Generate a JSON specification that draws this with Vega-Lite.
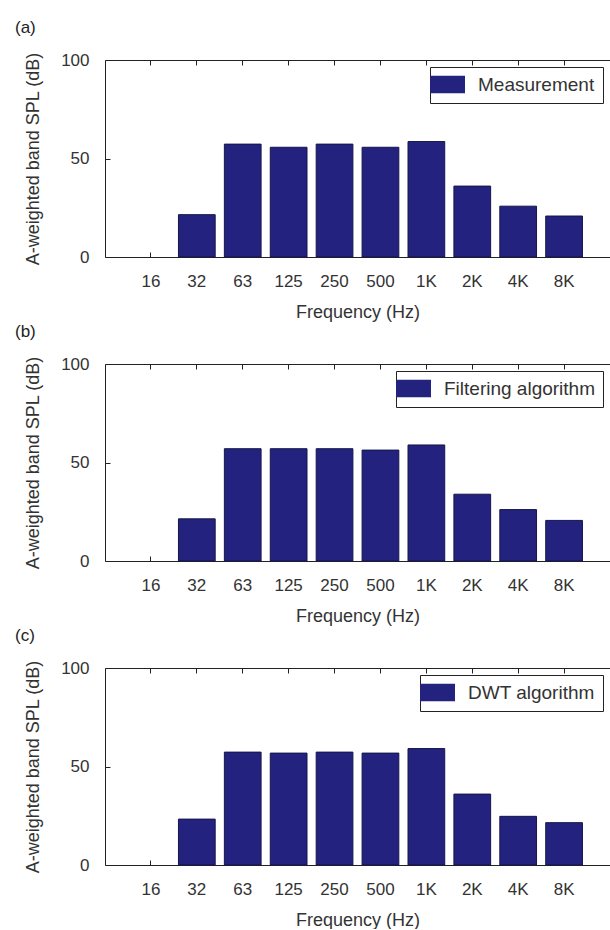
{
  "$schema": "https://vega.github.io/schema/vega-lite/v6.json",
  "padding": {"left": 15, "top": 19, "right": 0, "bottom": 0},
  "background": "white",
  "spacing": 107,
  "bounds": "flush",
  "resolve": {"scale": {"color": "independent"}, "legend": {"color": "independent"}},
  "config": {
    "font": "Liberation Sans",
    "view": {"stroke": null},
    "axis": {
      "labelFont": "Liberation Sans", "titleFont": "Liberation Sans",
      "labelFontSize": 17, "titleFontSize": 18, "titleFontWeight": "normal",
      "labelColor": "#333333", "titleColor": "#333333",
      "domainColor": "#222222", "tickColor": "#222222", "grid": false
    },
    "title": {"font": "Liberation Sans", "fontSize": 17, "fontWeight": "normal", "anchor": "start", "color": "#222222"},
    "legend": {
      "title": null, "orient": "top-right", "offset": 7,
      "strokeColor": "#222222", "fillColor": "white", "padding": 8,
      "symbolType": "M-2,-1H2V1H-2Z", "symbolSize": 306,
      "symbolStrokeWidth": 0, "symbolOpacity": 1,
      "labelFont": "Liberation Sans", "labelFontSize": 19, "labelColor": "#333333", "labelOffset": 21
    }
  },
  "datasets": {
    "a": [
      {"freq": "16", "spl": null, "series": "Measurement"},
      {"freq": "32", "spl": 21.5, "series": "Measurement"},
      {"freq": "63", "spl": 57.3, "series": "Measurement"},
      {"freq": "125", "spl": 55.7, "series": "Measurement"},
      {"freq": "250", "spl": 57.3, "series": "Measurement"},
      {"freq": "500", "spl": 55.7, "series": "Measurement"},
      {"freq": "1K", "spl": 58.6, "series": "Measurement"},
      {"freq": "2K", "spl": 36.0, "series": "Measurement"},
      {"freq": "4K", "spl": 25.8, "series": "Measurement"},
      {"freq": "8K", "spl": 20.8, "series": "Measurement"}
    ],
    "b": [
      {"freq": "16", "spl": null, "series": "Filtering algorithm"},
      {"freq": "32", "spl": 21.4, "series": "Filtering algorithm"},
      {"freq": "63", "spl": 57.0, "series": "Filtering algorithm"},
      {"freq": "125", "spl": 57.0, "series": "Filtering algorithm"},
      {"freq": "250", "spl": 57.0, "series": "Filtering algorithm"},
      {"freq": "500", "spl": 56.3, "series": "Filtering algorithm"},
      {"freq": "1K", "spl": 58.9, "series": "Filtering algorithm"},
      {"freq": "2K", "spl": 33.9, "series": "Filtering algorithm"},
      {"freq": "4K", "spl": 26.1, "series": "Filtering algorithm"},
      {"freq": "8K", "spl": 20.6, "series": "Filtering algorithm"}
    ],
    "c": [
      {"freq": "16", "spl": null, "series": "DWT algorithm"},
      {"freq": "32", "spl": 23.3, "series": "DWT algorithm"},
      {"freq": "63", "spl": 57.3, "series": "DWT algorithm"},
      {"freq": "125", "spl": 56.8, "series": "DWT algorithm"},
      {"freq": "250", "spl": 57.3, "series": "DWT algorithm"},
      {"freq": "500", "spl": 56.8, "series": "DWT algorithm"},
      {"freq": "1K", "spl": 59.1, "series": "DWT algorithm"},
      {"freq": "2K", "spl": 36.0, "series": "DWT algorithm"},
      {"freq": "4K", "spl": 24.7, "series": "DWT algorithm"},
      {"freq": "8K", "spl": 21.5, "series": "DWT algorithm"}
    ]
  },
  "vconcat": [
    {
      "width": 505, "height": 197,
      "title": {"text": "(a)", "frame": "group", "dx": -90, "offset": 14},
      "data": {"name": "a"},
      "resolve": {"axis": {"x": "independent"}},
      "layer": [
        {
          "mark": {"type": "bar", "stroke": "#15154a", "strokeWidth": 1},
          "encoding": {
            "x": {"field": "freq", "type": "ordinal", "sort": null,
              "scale": {"domain": ["16","32","63","125","250","500","1K","2K","4K","8K"], "paddingInner": 0.2, "paddingOuter": 0.6},
              "axis": {"title": "Frequency (Hz)", "labelAngle": 0, "tickSize": -5, "labelPadding": 21, "titlePadding": 14}},
            "y": {"field": "spl", "type": "quantitative", "scale": {"domain": [0, 100]},
              "axis": {"title": "A-weighted band SPL (dB)", "values": [0, 50, 100], "tickSize": -5, "labelPadding": 21, "titlePadding": 18}},
            "color": {"field": "series", "type": "nominal", "scale": {"range": ["#23237f"]}}
          }
        },
        {
          "mark": {"type": "bar", "opacity": 0},
          "encoding": {
            "x": {"field": "freq", "type": "ordinal", "sort": null,
              "axis": {"orient": "top", "title": null, "labels": false, "tickSize": -5}},
            "y": {"field": "spl", "type": "quantitative"}
          }
        }
      ]
    },
    {
      "width": 505, "height": 197,
      "title": {"text": "(b)", "frame": "group", "dx": -90, "offset": 14},
      "data": {"name": "b"},
      "resolve": {"axis": {"x": "independent"}},
      "layer": [
        {
          "mark": {"type": "bar", "stroke": "#15154a", "strokeWidth": 1},
          "encoding": {
            "x": {"field": "freq", "type": "ordinal", "sort": null,
              "scale": {"domain": ["16","32","63","125","250","500","1K","2K","4K","8K"], "paddingInner": 0.2, "paddingOuter": 0.6},
              "axis": {"title": "Frequency (Hz)", "labelAngle": 0, "tickSize": -5, "labelPadding": 21, "titlePadding": 14}},
            "y": {"field": "spl", "type": "quantitative", "scale": {"domain": [0, 100]},
              "axis": {"title": "A-weighted band SPL (dB)", "values": [0, 50, 100], "tickSize": -5, "labelPadding": 21, "titlePadding": 18}},
            "color": {"field": "series", "type": "nominal", "scale": {"range": ["#23237f"]}}
          }
        },
        {
          "mark": {"type": "bar", "opacity": 0},
          "encoding": {
            "x": {"field": "freq", "type": "ordinal", "sort": null,
              "axis": {"orient": "top", "title": null, "labels": false, "tickSize": -5}},
            "y": {"field": "spl", "type": "quantitative"}
          }
        }
      ]
    },
    {
      "width": 505, "height": 197,
      "title": {"text": "(c)", "frame": "group", "dx": -90, "offset": 14},
      "data": {"name": "c"},
      "resolve": {"axis": {"x": "independent"}},
      "layer": [
        {
          "mark": {"type": "bar", "stroke": "#15154a", "strokeWidth": 1},
          "encoding": {
            "x": {"field": "freq", "type": "ordinal", "sort": null,
              "scale": {"domain": ["16","32","63","125","250","500","1K","2K","4K","8K"], "paddingInner": 0.2, "paddingOuter": 0.6},
              "axis": {"title": "Frequency (Hz)", "labelAngle": 0, "tickSize": -5, "labelPadding": 21, "titlePadding": 14}},
            "y": {"field": "spl", "type": "quantitative", "scale": {"domain": [0, 100]},
              "axis": {"title": "A-weighted band SPL (dB)", "values": [0, 50, 100], "tickSize": -5, "labelPadding": 21, "titlePadding": 18}},
            "color": {"field": "series", "type": "nominal", "scale": {"range": ["#23237f"]}}
          }
        },
        {
          "mark": {"type": "bar", "opacity": 0},
          "encoding": {
            "x": {"field": "freq", "type": "ordinal", "sort": null,
              "axis": {"orient": "top", "title": null, "labels": false, "tickSize": -5}},
            "y": {"field": "spl", "type": "quantitative"}
          }
        }
      ]
    }
  ]
}
